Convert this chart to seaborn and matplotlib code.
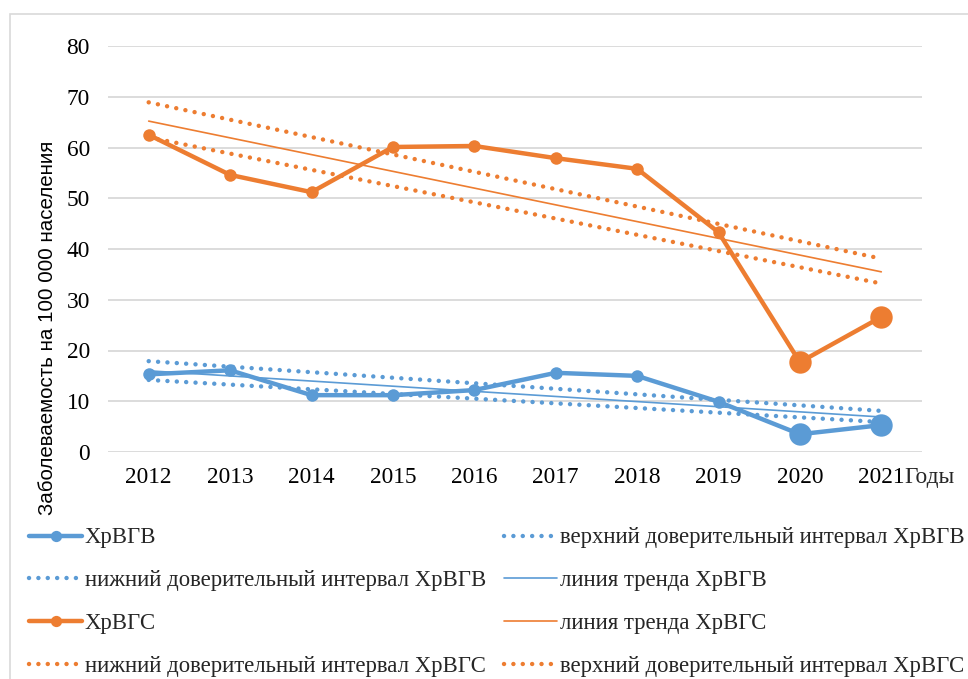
import numpy as np
import pandas as pd
import matplotlib
matplotlib.use('Agg')
import matplotlib.pyplot as plt
from matplotlib.patches import Rectangle
import seaborn as sns

# data
years = [2012, 2013, 2014, 2015, 2016, 2017, 2018, 2019, 2020, 2021]
hcv_b = [15.3, 16.1, 11.2, 11.2, 12.2, 15.6, 15.0, 9.9, 3.5, 5.3]      # ХрВГВ
hcv_c = [62.5, 54.6, 51.2, 60.1, 60.3, 57.9, 55.8, 43.3, 17.7, 26.6]   # ХрВГС
trend_years = [2012, 2021]
trend_b = [16.0, 6.9]
upper_b = [17.9, 8.1]
lower_b = [14.2, 5.9]
trend_c = [65.2, 35.5]
upper_c = [68.9, 38.1]
lower_c = [62.0, 33.2]
big_years = [2020, 2021]
yticks = [0, 10, 20, 30, 40, 50, 60, 70, 80]

BLUE = '#5B9BD5'
ORANGE = '#ED7D31'

sns.set_theme(style='white')
plt.rcParams['font.family'] = ['Liberation Serif', 'DejaVu Serif']

fig = plt.figure(figsize=(9.68, 6.79), dpi=100)
ax = fig.add_axes([108 / 968, 1 - 452 / 679, 814 / 968, 406 / 679])

# chart area border
fig.patches.append(Rectangle((10 / 968, -0.1), 1.2, 1 - 14 / 679 + 0.1,
                             transform=fig.transFigure, fill=False,
                             edgecolor='#D9D9D9', linewidth=1.2, zorder=0))

dots = dict(linewidth=3.2, dashes=(0.01, 2.1), dash_capstyle='round')

def draw_series(vals, color, label):
    df = pd.DataFrame({'year': years, 'val': vals})
    sns.lineplot(data=df, x='year', y='val', ax=ax, color=color, linewidth=3.2,
                 marker='o', markersize=9, markeredgewidth=0, label=label, zorder=5)
    big = df[df['year'].isin(big_years)]
    sns.scatterplot(data=big, x='year', y='val', ax=ax, color=color, s=260,
                    linewidth=0, zorder=6, legend=False)

def draw_line(vals, color, label, style):
    df = pd.DataFrame({'year': trend_years, 'val': vals})
    sns.lineplot(data=df, x='year', y='val', ax=ax, color=color,
                 label=label, zorder=3, **style)

draw_series(hcv_b, BLUE, 'ХрВГВ')
draw_line(upper_b, BLUE, 'верхний доверительный интервал ХрВГВ', dots)
draw_line(lower_b, BLUE, 'нижний доверительный интервал ХрВГВ', dots)
draw_line(trend_b, BLUE, 'линия тренда ХрВГВ', dict(linewidth=1.2))
draw_series(hcv_c, ORANGE, 'ХрВГС')
draw_line(trend_c, ORANGE, 'линия тренда ХрВГС', dict(linewidth=1.2))
draw_line(lower_c, ORANGE, 'нижний доверительный интервал ХрВГС', dots)
draw_line(upper_c, ORANGE, 'верхний доверительный интервал ХрВГС', dots)

ax.set_xlim(2011.5, 2021.5)
ax.set_ylim(0, 80)
ax.set_yticks(yticks)
ax.set_xticks(years)
ax.set_xticklabels([str(y) for y in years])
ax.tick_params(axis='both', labelsize=16.8, colors='black', length=0)
ax.tick_params(axis='y', pad=13)
ax.tick_params(axis='x', pad=11)
ax.grid(axis='y', color='#D9D9D9', linewidth=1.3)
ax.grid(axis='x', visible=False)
for s in ax.spines.values():
    s.set_visible(False)

ax.set_xlabel('')
ax.set_ylabel('Заболеваемость на 100 000 населения', fontsize=14.8,
              family=['Liberation Sans', 'DejaVu Sans'], color='black')
ax.yaxis.set_label_coords(-0.0627, 0.305)
fig.text(904 / 968, 1 - 477 / 679, 'Годы', fontsize=16.8, va='center', ha='left')

# legend in the order of the reference (two columns, filled column-wise)
handles, labels = ax.get_legend_handles_labels()
lookup = dict(zip(labels, handles))
order = ['ХрВГВ', 'нижний доверительный интервал ХрВГВ', 'ХрВГС',
         'нижний доверительный интервал ХрВГС',
         'верхний доверительный интервал ХрВГВ', 'линия тренда ХрВГВ',
         'линия тренда ХрВГС', 'верхний доверительный интервал ХрВГС']
ax.legend_.remove()
fig.legend([lookup[l] for l in order], order, ncol=2, frameon=False,
           loc='upper left', bbox_to_anchor=(9 / 968, 1 - 507 / 679),
           fontsize=16.4, handlelength=2.3, handletextpad=0.13,
           columnspacing=0.8, labelspacing=0.96, markerscale=0.9)

fig.savefig('out.png', dpi=100)
